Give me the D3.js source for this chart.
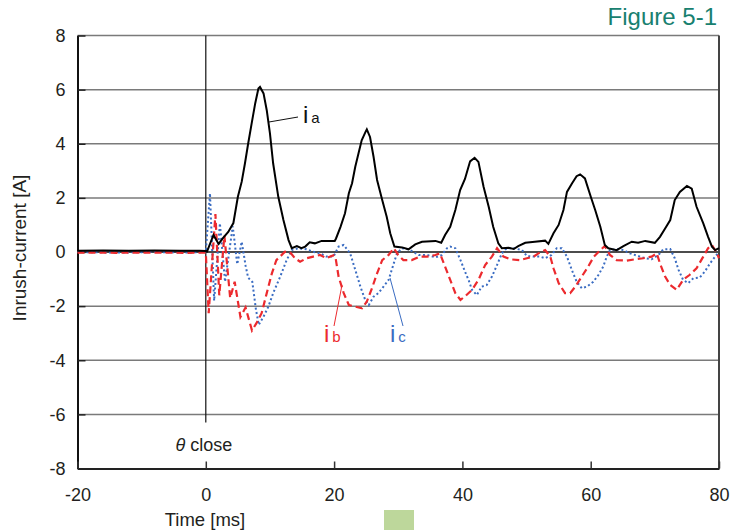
<!DOCTYPE html>
<html>
<head>
<meta charset="utf-8">
<script src="https://cdn.jsdelivr.net/npm/d3@7"></script>
<style>
  body { margin: 0; background: #fff; }
  svg { display: block; }
</style>
</head>
<body>
<svg class="chart"></svg>
<script>
// Data: [time ms, current A]
const iaData = [[-20,0.05],[-16,0.06],[-12,0.05],[-8,0.06],[-4,0.05],[-1,0.05],[0,0.04],[0.2,0.02],[1.2,0.63],[2.0,0.3],[2.7,0.52],[3.5,0.74],[4.3,1.07],[5.0,2.04],[5.6,2.6],[6.1,3.27],[6.6,4.0],[7.15,4.75],[7.7,5.49],[8.2,6.04],[8.45,6.1],[9.0,5.86],[9.5,5.24],[10.0,4.38],[10.5,3.27],[11.3,2.04],[12.1,1.18],[12.9,0.44],[13.4,0.14],[14.2,0.22],[14.9,0.14],[15.5,0.2],[16.2,0.36],[17.0,0.32],[18.05,0.41],[20.1,0.41],[20.3,0.5],[21.0,0.93],[21.7,1.43],[22.3,2.17],[22.8,2.54],[23.3,3.15],[23.8,3.64],[24.3,4.13],[24.9,4.44],[25.1,4.53],[25.6,4.25],[26.15,3.52],[26.7,2.66],[27.5,1.92],[28.2,1.3],[28.75,0.69],[29.4,0.2],[30.6,0.17],[31.6,0.1],[32.65,0.28],[33.7,0.38],[35.8,0.41],[36.7,0.34],[37.3,0.63],[38.1,0.93],[38.9,1.55],[39.65,2.29],[40.4,2.7],[41.2,3.35],[41.9,3.48],[42.5,3.33],[43.3,2.41],[44.1,1.67],[44.8,0.93],[45.6,0.32],[46.15,0.14],[47.2,0.16],[48.0,0.11],[48.7,0.22],[49.8,0.34],[51.3,0.38],[52.9,0.42],[53.4,0.3],[54.2,0.69],[55.0,1.0],[55.75,1.55],[56.3,2.22],[57.1,2.54],[57.8,2.8],[58.35,2.87],[59.1,2.72],[60.0,2.05],[60.7,1.55],[61.5,0.93],[62.2,0.26],[62.75,0.14],[64.05,0.07],[65.1,0.22],[66.4,0.38],[67.4,0.34],[68.5,0.41],[70.0,0.34],[70.8,0.56],[71.6,0.87],[72.4,1.18],[73.1,1.92],[73.9,2.22],[75.0,2.44],[75.75,2.34],[76.5,1.67],[77.55,1.06],[78.3,0.56],[78.9,0.2],[79.4,0.07],[80,0.14]];

const ibData = [[-20,-0.02],[-14,-0.03],[-8,-0.02],[-3,-0.03],[0,-0.02],[0.45,-2.26],[1.5,1.4],[2.1,-1.6],[2.9,0.6],[3.8,-1.7],[4.5,-1.1],[5.4,-2.4],[6.2,-2.05],[7.2,-2.9],[7.9,-2.63],[8.7,-2.26],[9.5,-1.52],[10.3,-0.79],[11.0,-0.3],[12.35,0.01],[13.1,0],[13.9,-0.23],[14.7,-0.36],[15.7,-0.23],[16.75,-0.17],[17.8,-0.11],[18.8,-0.23],[19.9,-0.12],[20.2,-0.17],[20.7,-0.91],[21.5,-1.52],[22.3,-1.96],[23.3,-2.02],[24.35,-2.08],[25.1,-1.83],[25.9,-1.34],[26.7,-0.79],[27.5,-0.3],[28.5,-0.11],[29.3,0.14],[30.0,-0.11],[30.8,-0.3],[32.1,-0.3],[33.4,-0.17],[34.5,-0.17],[35.8,-0.11],[36.5,-0.05],[37.3,-0.54],[38.1,-1.03],[38.9,-1.52],[39.7,-1.77],[40.5,-1.62],[41.5,-1.4],[42.5,-1.03],[43.55,-0.48],[44.6,-0.17],[45.4,0.14],[46.4,-0.17],[47.45,-0.27],[49.0,-0.3],[50.05,-0.23],[51.1,-0.17],[51.85,-0.05],[52.9,0.07],[53.7,-0.17],[54.2,-0.6],[55.0,-1.15],[56.0,-1.52],[56.8,-1.52],[57.6,-1.28],[58.6,-0.91],[59.6,-0.54],[60.5,-0.17],[61.5,0.07],[62.2,0.22],[63.0,-0.11],[64.05,-0.3],[65.6,-0.32],[66.9,-0.27],[68.2,-0.23],[69.5,-0.17],[70.3,-0.05],[70.8,-0.42],[71.6,-0.91],[72.4,-1.22],[73.4,-1.4],[74.4,-1.03],[75.4,-0.85],[76.5,-0.6],[77.55,-0.17],[78.3,0.14],[78.9,0.26],[79.7,-0.05],[80,-0.23]];

const icData = [[-20,0.0],[-14,-0.02],[-8,0.0],[-3,-0.02],[0,0],[0.65,2.17],[1.3,-1.8],[2.2,1.06],[3.0,-1.1],[4.2,0.95],[4.9,-0.45],[5.6,0.38],[6.2,-0.5],[6.6,-0.95],[7.25,-1.1],[7.8,-2.1],[8.25,-2.69],[9.0,-2.39],[9.75,-2.02],[10.5,-1.52],[11.6,-0.91],[12.6,-0.3],[13.4,0.07],[14.4,0.14],[15.7,0.1],[16.75,0.01],[17.8,-0.05],[18.8,-0.17],[19.9,-0.17],[20.7,0.2],[21.5,0.26],[22.5,-0.05],[23.3,-0.66],[24.1,-1.28],[24.85,-1.77],[25.4,-1.96],[26.15,-1.65],[26.9,-1.52],[27.7,-1.28],[28.5,-1.03],[29.3,-0.42],[29.8,-0.05],[30.6,0.14],[31.6,0.1],[33.2,-0.11],[34.5,-0.11],[35.8,-0.2],[36.8,-0.11],[37.6,0.14],[38.1,0.2],[38.9,0.14],[39.7,-0.3],[40.4,-0.72],[41.0,-1.06],[41.5,-1.4],[42.25,-1.59],[43.0,-1.28],[43.8,-1.22],[44.6,-0.91],[45.4,-0.48],[46.15,-0.05],[46.9,0.14],[48.0,0.14],[49.3,0.07],[50.05,-0.15],[51.1,-0.17],[52.1,-0.17],[52.9,-0.23],[53.9,-0.11],[54.7,0.14],[55.5,0.14],[56.3,-0.17],[57.05,-0.66],[57.8,-1.09],[58.6,-1.34],[59.4,-1.28],[60.4,-1.1],[61.2,-0.85],[61.95,-0.54],[62.5,-0.17],[63.0,0.07],[64.05,0.1],[65.1,0.07],[66.1,-0.05],[67.4,-0.15],[68.5,-0.23],[69.5,-0.27],[70.55,-0.11],[71.3,0.1],[72.4,0.11],[73.1,-0.23],[73.7,-0.66],[74.4,-1.03],[75.2,-1.15],[76.0,-0.97],[77.0,-0.94],[77.8,-0.72],[78.6,-0.42],[79.4,-0.17],[80,0]];

const xTicks = [-20, 0, 20, 40, 60, 80];
const yTicks = [-8, -6, -4, -2, 0, 2, 4, 6, 8];

// Layout
const svgWidth = 744;
const svgHeight = 530;
const margin = { top: 35.5, right: 25, bottom: 61.5, left: 77.5 };
const chartWidth = svgWidth - margin.left - margin.right;
const chartHeight = svgHeight - margin.top - margin.bottom;
const tickFont = '"Liberation Sans", Arial, sans-serif';

const svg = d3.select('.chart')
  .attr('width', svgWidth)
  .attr('height', svgHeight);

const chart = svg.append('g')
  .attr('transform', 'translate(' + margin.left + ',' + margin.top + ')');

const xScale = d3.scaleLinear().domain([-20, 80]).range([0, chartWidth]);
const yScale = d3.scaleLinear().domain([-8, 8]).range([chartHeight, 0]);

// Horizontal grid lines
chart.selectAll('line.grid')
  .data(yTicks.filter(d => d !== -8))
  .enter()
  .append('line')
  .attr('class', 'grid')
  .attr('x1', 0)
  .attr('x2', chartWidth)
  .attr('y1', d => yScale(d))
  .attr('y2', d => yScale(d))
  .attr('stroke', d => d === 0 ? '#111' : '#7a7a7a')
  .attr('stroke-width', d => d === 0 ? 1.3 : 1.5);

// Right border
chart.append('line')
  .attr('x1', chartWidth).attr('x2', chartWidth)
  .attr('y1', 0).attr('y2', chartHeight)
  .attr('stroke', '#444').attr('stroke-width', 2);

// Vertical line at switch closing
chart.append('line')
  .attr('x1', xScale(0)).attr('x2', xScale(0))
  .attr('y1', 0).attr('y2', yScale(-6.3))
  .attr('stroke', '#111').attr('stroke-width', 1.2);

// Axes (plain hyphen for negatives, as in the original)
const plain = d => String(d);

const yAxisGroup = chart.append('g')
  .call(d3.axisLeft(yScale).tickValues(yTicks).tickFormat(plain).tickSizeInner(-8).tickSizeOuter(0).tickPadding(12));
yAxisGroup.select('.domain').attr('stroke', '#111').attr('stroke-width', 2);
yAxisGroup.selectAll('line').attr('stroke', '#222').attr('stroke-width', 1.5);
yAxisGroup.selectAll('text')
  .attr('font-family', tickFont).attr('font-size', '18px').attr('fill', '#231f20');

const xAxisGroup = chart.append('g')
  .attr('transform', 'translate(0,' + chartHeight + ')')
  .call(d3.axisBottom(xScale).tickValues(xTicks).tickFormat(plain).tickSizeInner(-7).tickSizeOuter(0).tickPadding(20));
xAxisGroup.select('.domain').attr('stroke', '#222').attr('stroke-width', 2);
xAxisGroup.selectAll('line').attr('stroke', '#333').attr('stroke-width', 1.5);
xAxisGroup.selectAll('text')
  .attr('font-family', tickFont).attr('font-size', '18px').attr('fill', '#231f20');

// Curves
const line = d3.line()
  .x(d => xScale(d[0]))
  .y(d => yScale(d[1]));

chart.append('path')
  .datum(icData)
  .attr('fill', 'none')
  .attr('stroke', '#3a6cc2')
  .attr('stroke-width', 2)
  .attr('stroke-dasharray', '2 2.5')
  .attr('d', line);

chart.append('path')
  .datum(ibData)
  .attr('fill', 'none')
  .attr('stroke', '#ec2a2e')
  .attr('stroke-width', 2.2)
  .attr('stroke-dasharray', '7 4')
  .attr('d', line);

chart.append('path')
  .datum(iaData)
  .attr('fill', 'none')
  .attr('stroke', '#000')
  .attr('stroke-width', 2)
  .attr('d', line);

// Series labels with leader lines
const labels = [
  { main: 'i', sub: 'a', color: '#111', x: 303, y: 123, lx1: 269, ly1: 122, lx2: 298, ly2: 117 },
  { main: 'i', sub: 'b', color: '#ec2a2e', x: 324, y: 342, lx1: 342, ly1: 285, lx2: 334, ly2: 326 },
  { main: 'i', sub: 'c', color: '#3a6cc2', x: 390, y: 342, lx1: 390, ly1: 278, lx2: 403, ly2: 326 }
];

labels.forEach(l => {
  svg.append('line')
    .attr('x1', l.lx1).attr('y1', l.ly1)
    .attr('x2', l.lx2).attr('y2', l.ly2)
    .attr('stroke', l.color).attr('stroke-width', 1);
  const t = svg.append('text')
    .attr('x', l.x).attr('y', l.y)
    .attr('fill', l.color)
    .attr('font-family', tickFont);
  t.append('tspan').attr('font-size', '24px').text(l.main);
  t.append('tspan').attr('font-size', '15px').attr('dx', 3).text(l.sub);
});

// θ close annotation
const closeText = svg.append('text')
  .attr('x', margin.left + xScale(0) - 2)
  .attr('y', 451)
  .attr('text-anchor', 'middle')
  .attr('font-family', tickFont)
  .attr('font-size', '18px')
  .attr('fill', '#231f20');
closeText.append('tspan').attr('font-style', 'italic').text('θ');
closeText.append('tspan').text(' close');

// Axis titles
svg.append('text')
  .attr('x', 205)
  .attr('y', 526)
  .attr('text-anchor', 'middle')
  .attr('font-family', tickFont)
  .attr('font-size', '18.5px')
  .attr('fill', '#231f20')
  .text('Time [ms]');

svg.append('text')
  .attr('transform', 'rotate(-90)')
  .attr('x', -248)
  .attr('y', 26)
  .attr('text-anchor', 'middle')
  .attr('font-family', tickFont)
  .attr('font-size', '19px')
  .attr('fill', '#231f20')
  .text('Inrush-current [A]');

// Figure title
svg.append('text')
  .attr('x', 717)
  .attr('y', 25)
  .attr('text-anchor', 'end')
  .attr('font-family', tickFont)
  .attr('font-size', '24px')
  .attr('fill', '#18806f')
  .text('Figure 5-1');

// Small green marker below the axis
svg.append('rect')
  .attr('x', 384).attr('y', 510)
  .attr('width', 30).attr('height', 20)
  .attr('fill', '#bdd79b');
</script>
</body>
</html>
